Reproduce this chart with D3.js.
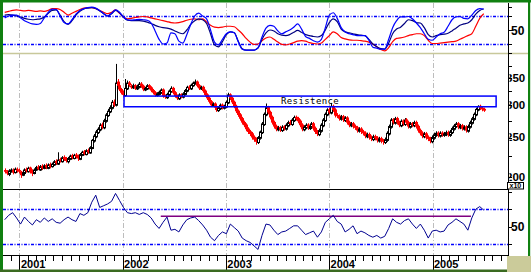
<!DOCTYPE html>
<html>
<head>
<meta charset="utf-8">
<script src="https://cdn.jsdelivr.net/npm/d3@7"></script>
<style>
  body { margin: 0; background: #fff; }
  svg { display: block; }
</style>
</head>
<body>
<script>
// weekly candles, first one on 10 Nov 2000
var firstWeek = new Date(2000, 10, 10);
var years = [2001, 2002, 2003, 2004, 2005];

var opens = [
  208,206,203,206,208,205,209,208,206,202, 204,209,206,211,207,204,208,212,208,213,
  210,214,210,215,212,214,219,215,221,218, 224,222,218,221,226,222,227,225,221,226,
  231,227,233,229,235,245,251,257,261,269, 264,274,283,289,295,306,300,343,336,329,
  323,317,329,341,335,331,336,329,332,339, 335,327,329,336,332,327,323,317,319,322,
  328,317,313,318,324,331,323,317,311,319, 314,319,325,333,329,335,339,343,336,329,
  333,326,319,313,307,299,303,297,291,294, 301,295,297,304,319,313,306,299,291,285,
  279,273,269,263,259,256,251,248,243,249, 257,269,284,297,289,281,273,267,261,265,
  260,266,262,267,273,269,275,281,279,275, 269,261,264,269,263,265,271,264,259,254,
  259,267,275,284,293,287,299,293,284,283, 277,282,275,280,273,267,271,267,265,259,
  263,259,257,251,255,251,247,252,250,245, 249,246,243,246,255,265,277,271,279,273,
  267,275,269,277,273,265,271,267,273,267, 261,257,251,256,251,249,244,249,253,257,
  252,257,253,254,258,253,257,262,266,271, 264,268,262,266,259,265,271,277,284,292,
  299,296,294
];
var highs = [
  210,208,209,210,210,211,211,210,207,207, 210,211,212,212,209,210,213,214,214,215,
  215,216,216,217,217,220,221,230,223,225, 226,224,224,227,228,228,229,227,229,232,
  233,234,235,238,248,255,261,265,271,272, 278,287,294,300,309,310,379,348,339,331,
  326,348,345,344,338,339,338,337,342,342, 337,333,338,338,334,329,325,323,326,330,
  330,319,322,328,334,333,325,319,321,321, 323,329,335,336,339,343,347,345,338,335,
  335,328,321,315,309,305,305,299,298,303, 303,301,308,322,321,315,308,301,293,287,
  281,275,271,265,261,258,253,250,252,260, 273,288,303,299,291,283,275,269,267,267,
  268,268,271,275,276,279,283,283,281,277, 271,268,271,271,269,273,273,266,261,263,
  271,279,288,295,296,304,301,295,287,285, 284,284,282,282,275,273,273,269,267,265,
  265,261,259,257,257,253,254,254,252,251, 251,248,250,259,269,279,279,281,281,275,
  277,277,279,279,275,273,273,275,275,269, 263,259,258,258,253,251,253,257,259,259,
  259,259,258,260,260,261,266,270,273,273, 270,270,268,268,269,275,281,288,296,300,
  301,298,296
];
var lows = [
  204,202,201,205,203,204,205,204,199,201, 203,205,205,204,201,203,207,208,207,208,
  209,209,209,210,211,213,214,214,217,217, 219,217,216,220,221,221,222,219,220,225,
  226,226,228,228,234,243,249,255,259,262, 262,272,281,287,293,297,298,332,325,319,
  315,315,327,333,329,329,327,327,330,331, 325,325,327,328,323,319,315,315,317,320,
  313,311,311,316,322,319,313,309,309,312, 312,317,323,327,327,333,337,332,327,327,
  322,315,309,303,297,297,293,289,289,292, 293,293,295,302,309,302,295,287,281,275,
  269,265,259,255,252,247,244,240,241,247, 255,267,282,285,277,269,263,259,259,258,
  258,260,260,265,268,267,273,275,271,265, 259,259,262,261,261,263,260,255,252,252,
  257,265,273,282,285,285,289,280,279,275, 275,273,273,269,265,265,263,261,257,257,
  255,253,249,249,247,245,245,246,243,243, 242,240,241,244,253,263,269,269,269,265,
  265,267,267,269,263,263,265,265,263,257, 253,249,249,247,245,242,242,247,251,250,
  250,251,251,252,251,251,255,260,264,262, 262,260,260,257,257,263,269,275,282,290,
  292,290,289
];
var closes = [
  206,204,207,208,205,209,207,206,202,205, 208,207,210,206,204,208,211,209,212,210,
  213,211,214,212,215,218,216,220,219,223, 221,219,222,225,223,226,224,222,227,230,
  228,232,230,236,246,252,258,262,268,265, 275,284,290,296,305,300,340,335,328,322,
  318,330,340,336,332,335,330,333,338,334, 328,330,335,331,326,322,318,320,323,327,
  316,314,319,325,330,322,316,312,318,315, 320,326,332,330,336,340,342,335,330,332,
  325,318,312,306,300,302,296,292,295,300, 296,298,305,318,312,305,298,290,284,278,
  272,268,262,258,255,250,247,244,250,258, 270,285,296,288,280,272,266,262,264,261,
  265,263,268,272,270,276,280,278,274,268, 262,265,268,264,266,270,263,258,255,260,
  268,276,285,292,288,298,292,283,282,278, 281,276,279,272,268,270,266,264,260,262,
  258,256,252,254,250,248,251,249,246,248, 245,244,247,256,266,276,272,278,272,268,
  274,270,276,272,266,270,268,272,266,260, 256,252,255,250,248,245,250,254,256,253,
  256,254,255,257,254,258,263,267,270,265, 267,263,265,260,266,272,278,285,293,298,
  295,293,291
];

// indicator lines, one value every second week
var redLine = [
  88,90,92,93,92,91,92,91,90,91, 90,92,96,96,94,88,82,86,90,94,
  97,98,98,96,92,88,85,88,93,86, 78,74,75,77,78,79,78,76,74,72,
  70,68,66,65,66,68,71,73,74,72, 74,67,60,56,55,56,58,58,57,50,
  42,32,24,19,20,27,33,35,30,24, 19,18,20,23,26,27,26,23,21,20,
  22,30,38,46,42,34,31,29,28,28, 27,26,24,20,14,8,5,12,25,32,
  33,35,38,40,42,42,38,28,21,21, 22,23,24,25,26,30,34,38,42,58,
  75,85
];
var blueLine = [
  76,80,82,82,76,70,66,63,62,64, 76,88,95,94,80,66,63,72,84,92,
  96,98,99,97,92,85,80,86,93,88, 78,72,71,72,73,72,71,65,48,30,
  20,22,44,42,26,22,40,62,80,86, 80,74,50,24,18,30,42,46,44,25,
  9,7,7,7,12,35,54,60,58,48, 42,46,50,56,63,52,36,32,27,24,
  30,55,82,87,75,55,46,42,40,38, 38,38,28,13,11,9,9,30,55,70,
  78,78,79,74,65,55,42,30,28,35, 42,45,58,72,78,79,75,74,82,92,
  96,95
];
var navyLine = [
  82,83,82,80,78,75,73,72,73,74, 78,86,92,93,82,68,62,70,82,90,
  95,97,98,96,91,85,80,85,92,87, 77,71,70,70,70,69,67,64,60,57,
  55,54,52,48,44,42,50,62,70,74, 72,64,42,18,14,25,40,46,44,26,
  10,7,7,7,11,30,44,50,48,42, 39,38,40,45,49,45,40,38,36,35,
  38,50,66,74,68,52,46,44,42,40, 39,38,30,20,14,10,9,22,42,52,
  56,64,72,70,66,65,55,40,35,38, 40,41,43,48,54,60,63,65,72,84,
  92,95
];
var oscLine = [
  58,63,66,60,53,61,56,52,58,55, 60,56,59,55,54,58,61,58,56,65,
  63,66,78,86,72,74,76,79,88,80, 72,66,65,66,64,66,64,60,53,48,
  55,61,46,47,44,52,58,60,61,57, 52,46,38,34,40,44,42,53,49,45,
  37,34,32,28,24,40,53,52,46,41, 44,45,48,51,51,46,41,43,45,38,
  44,55,59,63,56,53,44,47,51,42, 45,43,40,38,40,37,39,48,59,55,
  53,57,59,53,48,53,46,37,45,46, 44,45,52,55,59,56,53,46,60,70,
  73,69
];

var topLevels = [20, 80];
var oscLevels = [30, 70];
var oscResistance = 62;
var oscResistanceDates = [new Date(2002, 4, 16), new Date(2005, 4, 17)];
var resistanceBand = [297.5, 316];
var resistanceDates = [new Date(2002, 0, 6), new Date(2005, 7, 14)];
var priceTicks = [350, 300, 250, 200];

var weeks = d3.range(closes.length).map(function(i) {
    return d3.timeDay.offset(firstWeek, 7 * i);
});
var halfWeeks = redLine.map(function(d, k) { return weeks[k * 2]; });

var W = 531, H = 272;
var left = 3, right = 508;

var svg = d3.select('body').append('svg')
    .attr('width', W)
    .attr('height', H)
    .style('font-family', 'Liberation Sans, Arial, sans-serif');

var x = d3.scaleTime()
    .domain([new Date(2000, 10, 4), new Date(2005, 8, 25)])
    .range([left, right]);

var yTop = d3.scaleLinear().domain([0, 100]).range([53.3, 6.7]);
var yPrice = d3.scaleLog().domain([200, 350]).range([177, 78]);
var yOsc = d3.scaleLinear().domain([30, 70]).range([244.2, 209.2]);

var defs = svg.append('defs');
function clip(id, y0, y1) {
    defs.append('clipPath').attr('id', id)
        .append('rect').attr('x', left).attr('y', y0)
        .attr('width', right - left).attr('height', y1 - y0);
}
clip('c-top', 3, 53);
clip('c-price', 53, 189);
clip('c-osc', 189.5, 256);
defs.append('clipPath').attr('id', 'c-lab')
    .append('rect').attr('x', 509.5).attr('y', 55).attr('width', 20).attr('height', 127);

// year grid lines
svg.append('g').selectAll('line')
    .data(years)
    .enter()
    .append('line')
        .attr('x1', function(d) { return Math.round(x(new Date(d, 0, 1))) + 0.5; })
        .attr('x2', function(d) { return Math.round(x(new Date(d, 0, 1))) + 0.5; })
        .attr('y1', 3)
        .attr('y2', 256)
        .attr('stroke', '#bdbdbd')
        .attr('stroke-dasharray', '5,2,1,2');

// dotted level lines
function level(y) {
    svg.append('line')
        .attr('x1', left).attr('x2', right)
        .attr('y1', y).attr('y2', y)
        .attr('stroke', '#0000ff')
        .attr('stroke-width', 1.4)
        .attr('stroke-dasharray', '3,1.5,1,1.5');
}
topLevels.forEach(function(v) { level(Math.round(yTop(v)) + 0.5); });
oscLevels.forEach(function(v) { level(Math.round(yOsc(v)) + 0.5); });

// top panel
var gTop = svg.append('g').attr('clip-path', 'url(#c-top)');
function topPath(data, colour) {
    gTop.append('path')
        .datum(data)
        .attr('fill', 'none')
        .attr('stroke', colour)
        .attr('stroke-width', 1.2)
        .attr('d', d3.line()
            .x(function(d, k) { return x(halfWeeks[k]); })
            .y(function(d) { return yTop(d); })
            .curve(d3.curveMonotoneX));
}
topPath(redLine, '#ff0000');
topPath(navyLine, '#000080');
topPath(blueLine, '#0000ff');

// candles
var gPrice = svg.append('g').attr('clip-path', 'url(#c-price)');
closes.forEach(function(c, i) {
    var o = opens[i];
    var prev = i > 0 ? closes[i - 1] : o;
    var colour = c < prev ? '#ff0000' : '#000000';
    var cx = Math.round(x(weeks[i]));
    var top = yPrice(Math.max(o, c)), bot = yPrice(Math.min(o, c));
    var hgt = Math.max(1, bot - top);
    gPrice.append('line')
        .attr('x1', cx + 0.5).attr('x2', cx + 0.5)
        .attr('y1', yPrice(highs[i])).attr('y2', yPrice(lows[i]))
        .attr('stroke', colour);
    if (c > o) {
        gPrice.append('rect')
            .attr('x', cx - 0.5).attr('y', top)
            .attr('width', 2).attr('height', hgt)
            .attr('fill', '#fff').attr('stroke', colour);
    } else {
        gPrice.append('rect')
            .attr('x', cx - 1).attr('y', top)
            .attr('width', 3).attr('height', hgt)
            .attr('fill', colour);
    }
});

// resistance band
var rx0 = x(resistanceDates[0]), rx1 = x(resistanceDates[1]);
svg.append('rect')
    .attr('x', rx0).attr('y', yPrice(resistanceBand[1]))
    .attr('width', rx1 - rx0)
    .attr('height', yPrice(resistanceBand[0]) - yPrice(resistanceBand[1]))
    .attr('fill', 'none')
    .attr('stroke', '#0000ff')
    .attr('stroke-width', 1.5);
svg.append('text')
    .attr('x', (rx0 + rx1) / 2)
    .attr('y', (yPrice(resistanceBand[0]) + yPrice(resistanceBand[1])) / 2 + 3)
    .attr('text-anchor', 'middle')
    .style('font-family', 'DejaVu Sans Mono, monospace')
    .style('font-size', '9px')
    .style('letter-spacing', '0.4px')
    .text('Resistence');

// bottom oscillator
var gOsc = svg.append('g').attr('clip-path', 'url(#c-osc)');
gOsc.append('line')
    .attr('x1', x(oscResistanceDates[0])).attr('x2', x(oscResistanceDates[1]))
    .attr('y1', yOsc(oscResistance)).attr('y2', yOsc(oscResistance))
    .attr('stroke', '#800080')
    .attr('stroke-width', 1.5);
gOsc.append('path')
    .datum(oscLine)
    .attr('fill', 'none')
    .attr('stroke', '#000090')
    .attr('stroke-width', 1)
    .attr('d', d3.line()
        .x(function(d, k) { return x(halfWeeks[k]); })
        .y(function(d) { return yOsc(d); }));

// frame lines
svg.append('line').attr('x1', left).attr('x2', 529).attr('y1', 53.5).attr('y2', 53.5)
    .attr('stroke', '#c8c89a').attr('stroke-width', 1.5);
svg.append('line').attr('x1', left).attr('x2', right).attr('y1', 189.5).attr('y2', 189.5)
    .attr('stroke', '#000');
svg.append('line').attr('x1', right + 0.5).attr('x2', right + 0.5).attr('y1', 3).attr('y2', 256)
    .attr('stroke', '#000');
svg.append('line').attr('x1', left).attr('x2', right).attr('y1', 255.5).attr('y2', 255.5)
    .attr('stroke', '#000');

// right axis ticks and labels
var rTicks = [yTop(0), yTop(20), yTop(50), yTop(80), yTop(100)]
    .concat([375, 350, 325, 300, 275, 250, 225, 200].map(yPrice))
    .concat([90, 70, 50, 30].map(yOsc));
svg.append('g').selectAll('line')
    .data(rTicks)
    .enter()
    .append('line')
        .attr('x1', right).attr('x2', right + 4)
        .attr('y1', function(d) { return Math.round(d) + 0.5; })
        .attr('y2', function(d) { return Math.round(d) + 0.5; })
        .attr('stroke', '#000');

svg.append('text').attr('x', 511).attr('y', yTop(50) + 4.5)
    .style('font-size', '12px').style('font-weight', 'bold').text('50');
svg.append('text').attr('x', 511).attr('y', yOsc(50) + 4.5)
    .style('font-size', '12px').style('font-weight', 'bold').text('50');
svg.append('g').attr('clip-path', 'url(#c-lab)').selectAll('text')
    .data(priceTicks)
    .enter()
    .append('text')
        .attr('x', 506)
        .attr('y', function(d) { return yPrice(d) + 3.5; })
        .style('font-size', '11.5px')
        .style('font-weight', 'bold')
        .text(function(d) { return d; });

svg.append('rect').attr('x', 507.5).attr('y', 182.5).attr('width', 16).attr('height', 6.5)
    .attr('fill', '#fff').attr('stroke', '#000');
svg.append('text').attr('x', 509.5).attr('y', 188.3)
    .style('font-size', '7px').style('font-weight', 'bold').text('x10');

// time axis
var months = d3.timeMonth.range(x.domain()[0], x.domain()[1]);
svg.append('g').selectAll('line')
    .data(months)
    .enter()
    .append('line')
        .attr('x1', function(d) { return Math.round(x(d)) + 0.5; })
        .attr('x2', function(d) { return Math.round(x(d)) + 0.5; })
        .attr('y1', 256)
        .attr('y2', function(d) { return d.getMonth() === 0 ? 270 : 261; })
        .attr('stroke', '#000');
svg.append('g').selectAll('text')
    .data(years)
    .enter()
    .append('text')
        .attr('x', function(d) { return x(new Date(d, 0, 1)) + 1.5; })
        .attr('y', 267.5)
        .style('font-size', '11px')
        .style('font-weight', 'bold')
        .text(function(d) { return d; });

// border
svg.append('rect').attr('x', 507).attr('y', 256).attr('width', 24).attr('height', 16).attr('fill', '#cbcb9a');
svg.append('rect').attr('x', 0).attr('y', 0).attr('width', 3).attr('height', 272).attr('fill', '#108010');
svg.append('rect').attr('x', 0).attr('y', 0).attr('width', 531).attr('height', 2.5).attr('fill', '#108010');
svg.append('rect').attr('x', 528).attr('y', 0).attr('width', 2.2).attr('height', 256).attr('fill', '#108010');
svg.append('rect').attr('x', 0).attr('y', 269.5).attr('width', 507).attr('height', 2.5).attr('fill', '#3a6a20');
</script>
</body>
</html>
